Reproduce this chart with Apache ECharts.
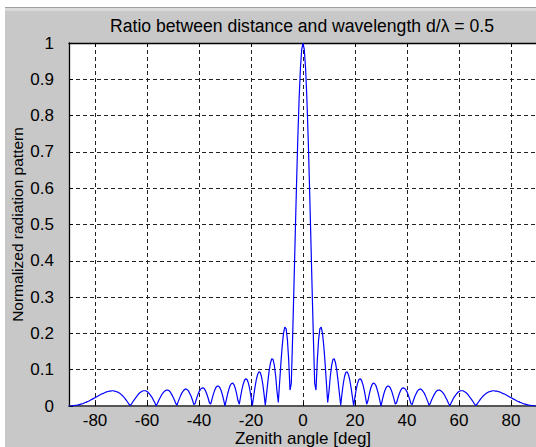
<!DOCTYPE html>
<html>
<head>
<meta charset="utf-8">
<script src="https://cdn.jsdelivr.net/npm/echarts@6/dist/echarts.min.js"></script>
<style>
html, body { margin: 0; padding: 0; background: #ffffff; overflow: hidden; }
#chart { width: 536px; height: 447px; }
</style>
</head>
<body>
<div id="chart"></div>
<script>
// Texts
const titleText = 'Ratio between distance and wavelength d/\u03bb = 0.5';
const xAxisTitle = 'Zenith angle [deg]';
const yAxisTitle = 'Normalized radiation pattern';

// Tick positions
const xTicks = [-80, -60, -40, -20, 0, 20, 40, 60, 80];
const yTicks = [0, 0.1, 0.2, 0.3, 0.4, 0.5, 0.6, 0.7, 0.8, 0.9, 1];

// Zenith angle samples [deg]
const zenithAngles = [
  -90, -89.5, -89, -88.5, -88, -87.5, -87, -86.5, -86, -85.5,
  -85, -84.5, -84, -83.5, -83, -82.5, -82, -81.5, -81, -80.5,
  -80, -79.5, -79, -78.5, -78, -77.5, -77, -76.5, -76, -75.5,
  -75, -74.5, -74, -73.5, -73, -72.5, -72, -71.5, -71, -70.5,
  -70, -69.5, -69, -68.5, -68, -67.5, -67, -66.5, -66, -65.5,
  -65, -64.5, -64, -63.5, -63, -62.5, -62, -61.5, -61, -60.5,
  -60, -59.5, -59, -58.5, -58, -57.5, -57, -56.5, -56, -55.5,
  -55, -54.5, -54, -53.5, -53, -52.5, -52, -51.5, -51, -50.5,
  -50, -49.5, -49, -48.5, -48, -47.5, -47, -46.5, -46, -45.5,
  -45, -44.5, -44, -43.5, -43, -42.5, -42, -41.5, -41, -40.5,
  -40, -39.5, -39, -38.5, -38, -37.5, -37, -36.5, -36, -35.5,
  -35, -34.5, -34, -33.5, -33, -32.5, -32, -31.5, -31, -30.5,
  -30, -29.5, -29, -28.5, -28, -27.5, -27, -26.5, -26, -25.5,
  -25, -24.5, -24, -23.5, -23, -22.5, -22, -21.5, -21, -20.5,
  -20, -19.5, -19, -18.5, -18, -17.5, -17, -16.5, -16, -15.5,
  -15, -14.5, -14, -13.5, -13, -12.5, -12, -11.5, -11, -10.5,
  -10, -9.5, -9, -8.5, -8, -7.5, -7, -6.5, -6, -5.5,
  -5, -4.5, -4, -3.5, -3, -2.5, -2, -1.5, -1, -0.5,
  0, 0.5, 1, 1.5, 2, 2.5, 3, 3.5, 4, 4.5,
  5, 5.5, 6, 6.5, 7, 7.5, 8, 8.5, 9, 9.5,
  10, 10.5, 11, 11.5, 12, 12.5, 13, 13.5, 14, 14.5,
  15, 15.5, 16, 16.5, 17, 17.5, 18, 18.5, 19, 19.5,
  20, 20.5, 21, 21.5, 22, 22.5, 23, 23.5, 24, 24.5,
  25, 25.5, 26, 26.5, 27, 27.5, 28, 28.5, 29, 29.5,
  30, 30.5, 31, 31.5, 32, 32.5, 33, 33.5, 34, 34.5,
  35, 35.5, 36, 36.5, 37, 37.5, 38, 38.5, 39, 39.5,
  40, 40.5, 41, 41.5, 42, 42.5, 43, 43.5, 44, 44.5,
  45, 45.5, 46, 46.5, 47, 47.5, 48, 48.5, 49, 49.5,
  50, 50.5, 51, 51.5, 52, 52.5, 53, 53.5, 54, 54.5,
  55, 55.5, 56, 56.5, 57, 57.5, 58, 58.5, 59, 59.5,
  60, 60.5, 61, 61.5, 62, 62.5, 63, 63.5, 64, 64.5,
  65, 65.5, 66, 66.5, 67, 67.5, 68, 68.5, 69, 69.5,
  70, 70.5, 71, 71.5, 72, 72.5, 73, 73.5, 74, 74.5,
  75, 75.5, 76, 76.5, 77, 77.5, 78, 78.5, 79, 79.5,
  80, 80.5, 81, 81.5, 82, 82.5, 83, 83.5, 84, 84.5,
  85, 85.5, 86, 86.5, 87, 87.5, 88, 88.5, 89, 89.5,
  90
];

// Normalized radiation pattern at each angle
const radiationPattern = [
  0.000, 0.000, 0.000, 0.001, 0.001, 0.002, 0.002, 0.003, 0.004, 0.005,
  0.006, 0.007, 0.009, 0.010, 0.012, 0.013, 0.015, 0.017, 0.019, 0.021,
  0.023, 0.025, 0.027, 0.029, 0.031, 0.033, 0.034, 0.036, 0.038, 0.039,
  0.040, 0.041, 0.041, 0.042, 0.042, 0.041, 0.040, 0.039, 0.037, 0.035,
  0.032, 0.029, 0.025, 0.021, 0.016, 0.011, 0.006, 0.001, 0.005, 0.011,
  0.016, 0.021, 0.026, 0.031, 0.035, 0.038, 0.040, 0.042, 0.042, 0.042,
  0.040, 0.037, 0.033, 0.028, 0.023, 0.016, 0.009, 0.001, 0.007, 0.015,
  0.022, 0.029, 0.035, 0.039, 0.042, 0.044, 0.044, 0.042, 0.038, 0.032,
  0.025, 0.017, 0.008, 0.002, 0.012, 0.021, 0.030, 0.037, 0.042, 0.046,
  0.047, 0.045, 0.041, 0.034, 0.026, 0.016, 0.004, 0.007, 0.019, 0.030,
  0.039, 0.045, 0.049, 0.050, 0.048, 0.042, 0.033, 0.022, 0.009, 0.005,
  0.019, 0.032, 0.043, 0.051, 0.055, 0.055, 0.051, 0.043, 0.031, 0.016,
  0.000, 0.017, 0.033, 0.046, 0.057, 0.062, 0.063, 0.058, 0.048, 0.033,
  0.015, 0.005, 0.026, 0.045, 0.060, 0.071, 0.075, 0.073, 0.063, 0.047,
  0.026, 0.001, 0.025, 0.050, 0.071, 0.086, 0.094, 0.093, 0.082, 0.062,
  0.034, 0.002, 0.034, 0.068, 0.098, 0.119, 0.130, 0.128, 0.111, 0.082,
  0.040, 0.010, 0.064, 0.118, 0.165, 0.200, 0.217, 0.213, 0.183, 0.126,
  0.044, 0.062, 0.187, 0.324, 0.467, 0.607, 0.736, 0.846, 0.929, 0.982,
  1.000, 0.982, 0.929, 0.846, 0.736, 0.607, 0.467, 0.324, 0.187, 0.062,
  0.044, 0.126, 0.183, 0.213, 0.217, 0.200, 0.165, 0.118, 0.064, 0.010,
  0.040, 0.082, 0.111, 0.128, 0.130, 0.119, 0.098, 0.068, 0.034, 0.002,
  0.034, 0.062, 0.082, 0.093, 0.094, 0.086, 0.071, 0.050, 0.025, 0.001,
  0.026, 0.047, 0.063, 0.073, 0.075, 0.071, 0.060, 0.045, 0.026, 0.005,
  0.015, 0.033, 0.048, 0.058, 0.063, 0.062, 0.057, 0.046, 0.033, 0.017,
  0.000, 0.016, 0.031, 0.043, 0.051, 0.055, 0.055, 0.051, 0.043, 0.032,
  0.019, 0.005, 0.009, 0.022, 0.033, 0.042, 0.048, 0.050, 0.049, 0.045,
  0.039, 0.030, 0.019, 0.007, 0.004, 0.016, 0.026, 0.034, 0.041, 0.045,
  0.047, 0.046, 0.042, 0.037, 0.030, 0.021, 0.012, 0.002, 0.008, 0.017,
  0.025, 0.032, 0.038, 0.042, 0.044, 0.044, 0.042, 0.039, 0.035, 0.029,
  0.022, 0.015, 0.007, 0.001, 0.009, 0.016, 0.023, 0.028, 0.033, 0.037,
  0.040, 0.042, 0.042, 0.042, 0.040, 0.038, 0.035, 0.031, 0.026, 0.021,
  0.016, 0.011, 0.005, 0.001, 0.006, 0.011, 0.016, 0.021, 0.025, 0.029,
  0.032, 0.035, 0.037, 0.039, 0.040, 0.041, 0.042, 0.042, 0.041, 0.041,
  0.040, 0.039, 0.038, 0.036, 0.034, 0.033, 0.031, 0.029, 0.027, 0.025,
  0.023, 0.021, 0.019, 0.017, 0.015, 0.013, 0.012, 0.010, 0.009, 0.007,
  0.006, 0.005, 0.004, 0.003, 0.002, 0.002, 0.001, 0.001, 0.000, 0.000,
  0.000
];

const seriesData = zenithAngles.map((a, i) => [a, radiationPattern[i]]);

const FONT = '"Liberation Sans", Arial, Helvetica, sans-serif';
const gridDash = { color: '#222222', width: 1, type: [4, 3] };

const chart = echarts.init(document.getElementById('chart'), null, { renderer: 'svg' });

chart.setOption({
  animation: false,
  backgroundColor: '#c8c8c8',
  graphic: [
    { type: 'rect', silent: true, shape: { x: 0, y: 0, width: 536, height: 7 }, style: { fill: '#ffffff' } },
    { type: 'rect', silent: true, shape: { x: 0, y: 0, width: 5, height: 447 }, style: { fill: '#ffffff' } },
    { type: 'rect', silent: true, shape: { x: 5, y: 7, width: 531, height: 1 }, style: { fill: '#a0a0a0' } },
    { type: 'rect', silent: true, shape: { x: 5, y: 8, width: 531, height: 3 }, style: { fill: '#dadada' } }
  ],
  title: {
    text: titleText,
    left: 302,
    top: 17,
    padding: 0,
    textAlign: 'center',
    textStyle: { fontFamily: FONT, fontSize: 17.6, fontWeight: 'normal', color: '#000000' }
  },
  grid: {
    left: 69, top: 43, width: 468, height: 363,
    outerBoundsMode: 'none',
    containLabel: false,
    show: true, backgroundColor: '#ffffff', borderWidth: 0
  },
  xAxis: [
    {
      type: 'value', position: 'bottom', min: -90, max: 90,
      name: xAxisTitle, nameLocation: 'middle', nameGap: 24, nameMoveOverlap: false,
      nameTextStyle: { fontFamily: FONT, fontSize: 17, color: '#000000' },
      axisLine: { show: true, onZero: false, lineStyle: { color: '#555555', width: 2 } },
      axisTick: { show: true, inside: true, length: 4, customValues: xTicks, lineStyle: { color: '#000000' } },
      axisLabel: { customValues: xTicks, margin: 6, fontFamily: FONT, fontSize: 17, color: '#000000' },
      splitLine: { show: true, lineStyle: gridDash }
    },
    {
      type: 'value', position: 'top', min: -90, max: 90,
      axisLine: { show: true, onZero: false, lineStyle: { color: '#000000', width: 1.3 } },
      axisTick: { show: true, inside: true, length: 4, customValues: xTicks, lineStyle: { color: '#000000' } },
      axisLabel: { show: false },
      splitLine: { show: false }
    }
  ],
  yAxis: {
    type: 'value', min: yTicks[0], max: yTicks[yTicks.length - 1], interval: 0.1,
    name: yAxisTitle, nameLocation: 'middle', nameGap: 44, nameMoveOverlap: false, nameRotate: 90,
    nameTextStyle: { fontFamily: FONT, fontSize: 15.5, color: '#000000' },
    axisLine: { show: true, onZero: false, lineStyle: { color: '#000000', width: 1.3 } },
    axisTick: { show: true, inside: true, length: 4, lineStyle: { color: '#000000' } },
    axisLabel: { margin: 15, fontFamily: FONT, fontSize: 17, color: '#000000' },
    splitLine: { show: true, lineStyle: gridDash }
  },
  series: [{
    type: 'line',
    xAxisIndex: 0,
    data: seriesData,
    showSymbol: false,
    smooth: false,
    clip: true,
    z: 5,
    lineStyle: { color: '#0000ff', width: 1.2 }
  }]
});
</script>
</body>
</html>
